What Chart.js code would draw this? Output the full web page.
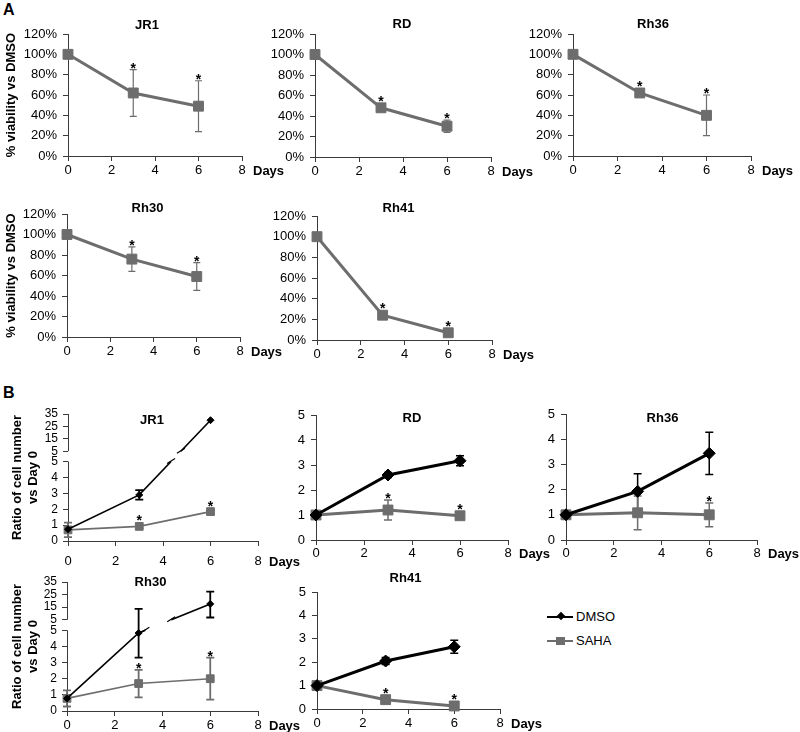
<!DOCTYPE html>
<html>
<head>
<meta charset="utf-8">
<script src="https://cdn.jsdelivr.net/npm/chart.js@4"></script>
<style>
  body { margin: 0; background: #fff; }
  #fig { position: relative; width: 800px; height: 732px; overflow: hidden;
         font-family: "Liberation Sans", Arial, sans-serif; color: #000; }
  #fig canvas { position: absolute; }
  .tag { position: absolute; font-weight: bold; font-size: 16px; line-height: 16px; }
  .lg { position: absolute; }
  .lgtxt { position: absolute; font-size: 13px; line-height: 15px; }
</style>
</head>
<body>
<div id="fig">
  <div class="tag" style="left:3px;top:2px">A</div>
  <div class="tag" style="left:3px;top:385px">B</div>
  <div class="lg" style="left:547px;top:616px;width:26px;height:2px;background:#000"></div>
  <div class="lg" style="left:558px;top:613px;width:6px;height:6px;background:#000;transform:rotate(45deg)"></div>
  <div class="lgtxt" style="left:576px;top:609px">DMSO</div>
  <div class="lg" style="left:547px;top:640px;width:26px;height:2px;background:#6d6d6d"></div>
  <div class="lg" style="left:556px;top:637px;width:9px;height:8px;background:#6d6d6d"></div>
  <div class="lgtxt" style="left:576px;top:633px">SAHA</div>
</div>
<script>
// ---- data ----
const days = [0, 3, 6];
const brkLowTicks = [0, 1, 2, 3, 4, 5];
const brkHighTicks = [5, 15, 25, 35];

// A: SAHA, % viability vs DMSO
const jr1Via = [100, 62, 49];
const jr1ViaErr = [0, 23, 25];
const rdVia = [100, 48, 30];
const rdViaErr = [0, 2, 6];
const rh36Via = [100, 62, 40];
const rh36ViaErr = [0, 2, 20];
const rh30Via = [100, 76, 59];
const rh30ViaErr = [0, 12, 13.5];
const rh41Via = [100, 24, 7];
const rh41ViaErr = [0, 1, 1];
const viaSig = [0, 1, 1];

// B: ratio of cell number vs day 0
const jr1Dmso = [0.74, 2.9, 30];
const jr1DmsoErr = [0, 0.3, 0];
const jr1Saha = [0.7, 0.92, 1.85];
const jr1SahaErr = [0.45, 0.12, 0.1];
const jr1Sig = [0, 1, 1];

const rdDmso = [1, 2.6, 3.17];
const rdDmsoErr = [0, 0.1, 0.2];
const rdSaha = [1, 1.2, 0.97];
const rdSahaErr = [0, 0.4, 0.05];
const rdSig = [0, 1, 1];

const rh36Dmso = [1, 1.93, 3.44];
const rh36DmsoErr = [0, 0.7, 0.84];
const rh36Saha = [1, 1.08, 1.0];
const rh36SahaErr = [0, 0.67, 0.47];
const rh36Sig = [0, 0, 1];

const rh30Dmso = [0.78, 4.83, 17.6];
const rh30DmsoHi = [0.78, 13.7, 27.4];
const rh30DmsoLo = [0.78, 3.3, 6.8];
const rh30Saha = [0.78, 1.7, 2.0];
const rh30SahaErr = [0.5, 0.85, 1.3];
const rh30Sig = [0, 1, 1];

const rh41Dmso = [1, 2.05, 2.66];
const rh41DmsoErr = [0, 0.15, 0.28];
const rh41Saha = [1, 0.4, 0.13];
const rh41SahaErr = [0, 0.05, 0.05];
const rh41Sig = [0, 1, 1];

// ---- styling ----
Chart.defaults.font.family = '"Liberation Sans", Arial, sans-serif';
Chart.defaults.font.size = 13;
Chart.defaults.color = '#000';
const GREY = '#6d6d6d';
const AX = '#3a3a3a';
const BRK = 5, GAP = 0.65, K = 0.078;   // broken axis: 0-5 linear, then 5-35 squeezed

function brk(v) { return v <= BRK ? v : BRK + GAP + (v - BRK) * K; }
function unbrk(d) { return d <= BRK ? d : Math.round(BRK + (d - BRK - GAP) / K); }

function err(vals, e) {
  return { hi: vals.map((v, i) => v + e[i]), lo: vals.map((v, i) => v - e[i]) };
}

const sahaA = { color: GREY, lw: 3, pt: 'rect', pr: 7, half: 5, ew: 1.2, cap: 3.5 };
const dmsoB = { color: '#000', lw: 3, pt: 'rectRot', pr: 6, half: 5, ew: 1.5, cap: 4 };
const sahaB = { color: GREY, lw: 3, pt: 'rect', pr: 7, half: 5, ew: 1.5, cap: 4 };
const dmsoThin = { color: '#000', lw: 1.6, pt: 'rectRot', pr: 3.5, half: 3, ew: 1.8, cap: 4 };
const sahaThin = { color: GREY, lw: 1.6, pt: 'rect', pr: 5.5, half: 4, ew: 1.8, cap: 4 };

function ser(label, vals, e, sig, style) {
  return Object.assign({ label: label, vals: vals, sig: sig || [0, 0, 0] }, e, style);
}

const panels = [
  { l: 68, t: 34, r: 242, b: 156, yw: 68, kind: 'pct', title: 'JR1', tdx: -8, tdy: -9,
    yTitle: '% viability vs DMSO', tpad: 2,
    series: [ser('SAHA', jr1Via, err(jr1Via, jr1ViaErr), viaSig, sahaA)] },
  { l: 315, t: 34, r: 491, b: 157, yw: 55, kind: 'pct', title: 'RD', tdx: -1, tdy: -10, tpad: 2,
    series: [ser('SAHA', rdVia, err(rdVia, rdViaErr), viaSig, sahaA)] },
  { l: 573, t: 34, r: 751, b: 156, yw: 55, kind: 'pct', title: 'Rh36', tdx: -9, tdy: -10, tpad: 2,
    series: [ser('SAHA', rh36Via, err(rh36Via, rh36ViaErr), viaSig, sahaA)] },
  { l: 67, t: 214, r: 240, b: 337, yw: 67, kind: 'pct', title: 'Rh30', tdx: -6, tdy: -6,
    yTitle: '% viability vs DMSO', tpad: 2,
    series: [ser('SAHA', rh30Via, err(rh30Via, rh30ViaErr), viaSig, sahaA)] },
  { l: 317, t: 216, r: 492, b: 340, yw: 55, kind: 'pct', title: 'Rh41', tdx: -6, tdy: -8, tpad: 2,
    series: [ser('SAHA', rh41Via, err(rh41Via, rh41ViaErr), viaSig, sahaA)] },

  { l: 68, t: 414, r: 258, b: 541, yw: 68, kind: 'broken', title: 'JR1', tdx: -11, tdy: 6,
    yTitle: ['Ratio of cell number', 'vs Day 0'], tpad: 8,
    series: [ser('DMSO', jr1Dmso, err(jr1Dmso, jr1DmsoErr), null, dmsoThin),
             ser('SAHA', jr1Saha, err(jr1Saha, jr1SahaErr), jr1Sig, sahaThin)] },
  { l: 316, t: 415, r: 508, b: 540, yw: 55, kind: 'ratio', title: 'RD', tdx: 0, tdy: 3, tpad: 1,
    series: [ser('DMSO', rdDmso, err(rdDmso, rdDmsoErr), null, dmsoB),
             ser('SAHA', rdSaha, err(rdSaha, rdSahaErr), rdSig, sahaB)] },
  { l: 566, t: 414, r: 757, b: 540, yw: 55, kind: 'ratio', title: 'Rh36', tdx: 1, tdy: 4, tpad: 1,
    series: [ser('DMSO', rh36Dmso, err(rh36Dmso, rh36DmsoErr), null, dmsoB),
             ser('SAHA', rh36Saha, err(rh36Saha, rh36SahaErr), rh36Sig, sahaB)] },
  { l: 67, t: 582, r: 258, b: 711, yw: 67, kind: 'broken', title: 'Rh30', tdx: -12, tdy: 0,
    yTitle: ['Ratio of cell number', 'vs Day 0'], tpad: 2,
    series: [ser('DMSO', rh30Dmso, { hi: rh30DmsoHi, lo: rh30DmsoLo }, null, dmsoThin),
             ser('SAHA', rh30Saha, err(rh30Saha, rh30SahaErr), rh30Sig, sahaThin)] },
  { l: 317, t: 592, r: 500, b: 709, yw: 55, kind: 'ratio', title: 'Rh41', tdx: -3, tdy: -14, tpad: 2,
    series: [ser('DMSO', rh41Dmso, err(rh41Dmso, rh41DmsoErr), null, dmsoB),
             ser('SAHA', rh41Saha, err(rh41Saha, rh41SahaErr), rh41Sig, sahaB)] }
];

// error bars, asterisks, titles, "Days", broken axis
function deco(p, tf) {
  return {
    id: 'deco',
    beforeDatasetsDraw(chart) {
      const { ctx, chartArea: ca, scales: { x, y } } = chart;
      ctx.save();
      if (p.kind === 'broken') {
        const ax = Math.round(ca.left) + 0.5;
        ctx.strokeStyle = AX; ctx.lineWidth = 1;
        ctx.beginPath();
        ctx.moveTo(ax, ca.bottom); ctx.lineTo(ax, y.getPixelForValue(BRK));
        ctx.moveTo(ax, y.getPixelForValue(BRK + GAP)); ctx.lineTo(ax, ca.top);
        ctx.stroke();
      }
      p.series.forEach(s => {
        ctx.strokeStyle = s.color; ctx.lineWidth = s.ew;
        s.vals.forEach((v, i) => {
          if (s.hi[i] === s.lo[i]) return;
          const px = x.getPixelForValue(days[i]);
          const yt = y.getPixelForValue(tf(s.hi[i]));
          const yb = y.getPixelForValue(tf(Math.max(0, s.lo[i])));
          ctx.beginPath();
          ctx.moveTo(px, yt); ctx.lineTo(px, yb);
          ctx.moveTo(px - s.cap, yt); ctx.lineTo(px + s.cap, yt);
          ctx.moveTo(px - s.cap, yb); ctx.lineTo(px + s.cap, yb);
          ctx.stroke();
        });
      });
      ctx.restore();
    },
    afterDatasetsDraw(chart) {
      const { ctx, chartArea: ca, scales: { x, y } } = chart;
      ctx.save();
      if (p.kind === 'broken') {
        chart.data.datasets.forEach((ds, k) => {
          const s = p.series[k];
          const pts = ds.data;
          for (let i = 0; i < pts.length - 1; i++) {
            const a = pts[i], b = pts[i + 1];
            if (a.y < BRK && b.y > BRK + GAP) {
              const f1 = (BRK - a.y) / (b.y - a.y), f2 = (BRK + GAP - a.y) / (b.y - a.y);
              const P = [x.getPixelForValue(a.x + (b.x - a.x) * f1), y.getPixelForValue(BRK)];
              const Q = [x.getPixelForValue(a.x + (b.x - a.x) * f2), y.getPixelForValue(BRK + GAP)];
              ctx.strokeStyle = '#fff'; ctx.lineWidth = s.lw + 4;
              ctx.beginPath(); ctx.moveTo(P[0], P[1]); ctx.lineTo(Q[0], Q[1]); ctx.stroke();
              ctx.strokeStyle = s.color; ctx.lineWidth = 1.2;
              ctx.beginPath();
              [P, Q].forEach(c => { ctx.moveTo(c[0] - 4, c[1] + 2); ctx.lineTo(c[0] + 4, c[1] - 3); });
              ctx.stroke();
            }
          }
        });
      }
      ctx.fillStyle = '#000';
      ctx.font = 'bold 14px "Liberation Sans", Arial, sans-serif';
      ctx.textAlign = 'center';
      ctx.textBaseline = 'alphabetic';
      p.series.forEach(s => {
        s.vals.forEach((v, i) => {
          if (!s.sig[i]) return;
          const px = x.getPixelForValue(days[i]);
          const top = Math.min(y.getPixelForValue(tf(s.hi[i])), y.getPixelForValue(tf(v)) - s.half);
          ctx.fillText('*', px, top + 3);
        });
      });
      ctx.font = 'bold 13px "Liberation Sans", Arial, sans-serif';
      ctx.textBaseline = 'middle';
      ctx.fillText(p.title, (ca.left + ca.right) / 2 + p.tdx, ca.top + p.tdy);
      ctx.textAlign = 'left';
      ctx.fillText('Days', ca.right + 11, ca.bottom + 5 + p.tpad + 8);
      ctx.restore();
    }
  };
}

const PT = 36, PR = 43, XH = 28;
const fig = document.getElementById('fig');

panels.forEach(p => {
  const tf = p.kind === 'broken' ? brk : v => v;
  const cv = document.createElement('canvas');
  const w = p.r - p.l + p.yw + PR, h = p.b - p.t + PT + XH;
  cv.width = w; cv.height = h;
  cv.style.left = (p.l - p.yw) + 'px';
  cv.style.top = (p.t - PT) + 'px';
  cv.style.width = w + 'px';
  cv.style.height = h + 'px';
  fig.appendChild(cv);

  const yScale = {
    min: 0,
    grid: { display: true, drawOnChartArea: false, tickLength: 5, color: AX },
    border: { display: p.kind !== 'broken', color: AX },
    ticks: { padding: 6, color: '#000', autoSkip: false },
    title: {
      display: !!p.yTitle, text: p.yTitle || '',
      font: { size: 13, weight: 'bold' }, color: '#000',
      padding: { top: p.kind === 'pct' ? 4 : 10, bottom: 0 }
    },
    afterFit: s => { s.width = p.yw; }
  };
  if (p.kind === 'pct') {
    yScale.max = 120;
    yScale.ticks.stepSize = 20;
    yScale.ticks.callback = v => v + '%';
  } else if (p.kind === 'ratio') {
    yScale.max = 5;
    yScale.ticks.stepSize = 1;
  } else {
    yScale.max = brk(brkHighTicks[brkHighTicks.length - 1]);
    yScale.ticks.font = { size: 12 };
    yScale.ticks.padding = 5;
    yScale.afterBuildTicks = s => {
      s.ticks = brkLowTicks.map(v => ({ value: v }))
        .concat(brkHighTicks.map(v => ({ value: BRK + GAP + (v - BRK) * K })));
    };
    yScale.ticks.callback = v => unbrk(v);
  }

  new Chart(cv, {
    type: 'line',
    data: {
      datasets: p.series.map(s => ({
        label: s.label,
        data: s.vals.map((v, i) => ({ x: days[i], y: tf(v) })),
        borderColor: s.color,
        backgroundColor: s.color,
        borderWidth: s.lw,
        pointStyle: s.pt,
        pointRadius: s.pr,
        pointBorderWidth: 1,
        tension: 0,
        clip: false
      }))
    },
    options: {
      responsive: false,
      animation: false,
      events: [],
      layout: { padding: { left: 0, top: PT, right: PR, bottom: 0 } },
      plugins: { legend: { display: false }, tooltip: { enabled: false } },
      scales: {
        x: {
          type: 'linear', min: 0, max: 8,
          grid: { display: true, drawOnChartArea: false, tickLength: 5, color: AX },
          border: { color: AX },
          ticks: { stepSize: 2, padding: p.tpad, color: '#000', maxRotation: 0 },
          afterFit: s => { s.height = XH; }
        },
        y: yScale
      }
    },
    plugins: [deco(p, tf)]
  });
});
</script>
</body>
</html>
